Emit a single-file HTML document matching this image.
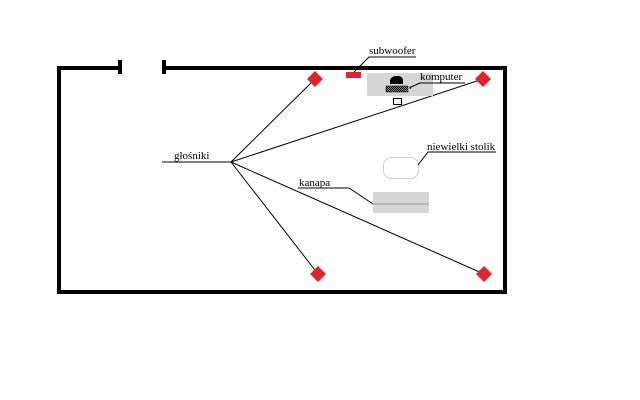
<!DOCTYPE html>
<html><head><meta charset="utf-8"><style>
html,body{margin:0;padding:0;background:#fff;width:640px;height:400px;overflow:hidden}
text{font-family:"Liberation Serif",serif;font-size:11px;fill:#000}
</style></head><body>
<svg width="640" height="400" viewBox="0 0 640 400" xmlns="http://www.w3.org/2000/svg">
<defs><pattern id="h" width="2" height="2" patternUnits="userSpaceOnUse"><rect width="2" height="2" fill="#888"/><rect width="1" height="1" fill="#000"/><rect x="1" y="1" width="1" height="1" fill="#000"/></pattern></defs>
<g fill="#000">
<rect x="57" y="66" width="64" height="4"/>
<rect x="118" y="60" width="4" height="14"/>
<rect x="162" y="60" width="4" height="14"/>
<rect x="162" y="66" width="345" height="4"/>
<rect x="57" y="66" width="4" height="228"/>
<rect x="503" y="66" width="4" height="228"/>
<rect x="57" y="290" width="450" height="4"/>
</g>
<g stroke="#000" stroke-width="1">
<line x1="231" y1="162" x2="315" y2="79"/>
<line x1="231" y1="162" x2="483" y2="79"/>
<line x1="231" y1="162" x2="318" y2="274"/>
<line x1="231" y1="162" x2="484" y2="274"/>
<line x1="162" y1="162" x2="231" y2="162"/>
</g>
<g fill="#e0232b">
<polygon points="315,71 323,79 315,87 307,79"/>
<polygon points="483,71 491,79 483,87 475,79"/>
<polygon points="318,266 326,274 318,282 310,274"/>
<polygon points="484,266 492,274 484,282 476,274"/>
<rect x="346" y="72" width="15" height="6"/>
</g>
<rect x="367" y="73" width="66" height="23" fill="#d6d6d6"/>
<path d="M390,84 L390,80 Q392,76 396,76 L398,76 Q402,76 403,80 L403,84 Z" fill="#000"/>
<rect x="386" y="86" width="22" height="6" fill="url(#h)" stroke="#000" stroke-width="0.5"/>
<polygon points="409,88 411,86 411,89" fill="#000"/>
<rect x="393.5" y="98.5" width="8" height="6" fill="#fff" stroke="#000"/>
<rect x="383.5" y="157.5" width="35" height="21" rx="8" fill="#fff" stroke="#d0d0d0"/>
<rect x="373" y="192" width="56" height="21" fill="#d6d6d6"/>
<line x1="373" y1="204" x2="429" y2="204" stroke="#999"/>
<g stroke="#000" stroke-width="1" fill="none">
<polyline points="354,72 369,57 416,57"/>
<polyline points="411,87 420,83 465,83"/>
<polyline points="418,165 428,152 496,152"/>
<polyline points="298,188 349,188 373,204"/>
</g>
<text x="369" y="54">subwoofer</text>
<text x="420" y="80">komputer</text>
<text x="427" y="150">niewielki stolik</text>
<text x="299" y="186">kanapa</text>
<text x="174" y="159">głośniki</text>
</svg>
</body></html>
